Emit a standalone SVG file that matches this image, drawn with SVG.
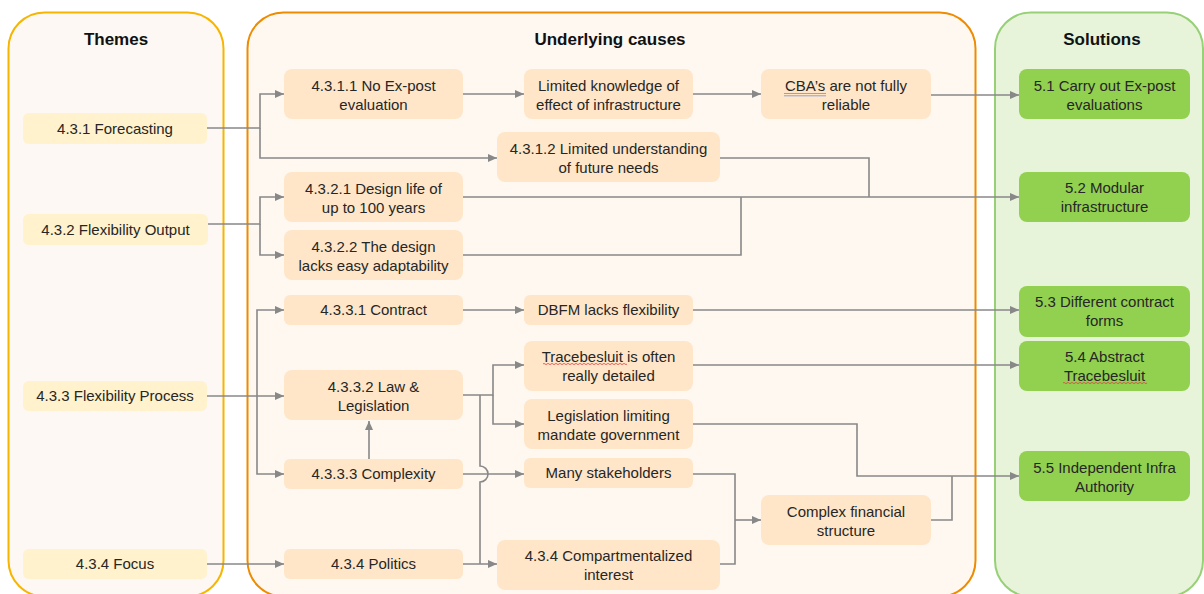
<svg xmlns="http://www.w3.org/2000/svg" width="1204" height="594" viewBox="0 0 1204 594">
  <style>
    text { font-family: "Liberation Sans", Arial, sans-serif; fill: #262626; }
    .title { font-size: 17px; font-weight: bold; fill: #111; text-anchor: middle; }
    .lbl { font-size: 15px; text-anchor: middle; }
    .theme rect { fill: #fff2cc; }
    .cause rect { fill: #ffe6c9; }
    .sol rect { fill: #92d050; }
    .conn path { fill: none; stroke: #888; stroke-width: 1.6; }
    .arr { marker-end: url(#tip); }
  </style>
  <defs>
    <marker id="tip" markerUnits="userSpaceOnUse" markerWidth="10" markerHeight="10" viewBox="0 0 10 10" refX="9" refY="5" orient="auto">
      <path d="M0,1 L9,5 L0,9 Z" fill="#888"/>
    </marker>
  </defs>

  <!-- swimlane panels -->
  <g id="lane-themes">
    <rect x="8.5" y="12.5" width="215" height="584" rx="36" fill="#fdf8f3" stroke="#f7b500" stroke-width="2"/>
    <text class="title" x="116" y="45">Themes</text>
  </g>
  <g id="lane-causes">
    <rect x="247.5" y="12.5" width="728" height="584" rx="36" fill="#fef8f1" stroke="#ee8b00" stroke-width="2"/>
    <text class="title" x="610" y="45">Underlying causes</text>
  </g>
  <g id="lane-solutions">
    <rect x="995" y="12.5" width="208" height="584" rx="36" fill="#e7f4da" stroke="#97d077" stroke-width="2"/>
    <text class="title" x="1102" y="45">Solutions</text>
  </g>

  <!-- connectors -->
  <g id="connectors" class="conn">
    <path class="arr" d="M207,128 H260 V94 H284"/>
    <path class="arr" d="M260,128 V158 H497"/>
    <path class="arr" d="M463,94 H524"/>
    <path class="arr" d="M693,94 H761"/>
    <path class="arr" d="M931,95 H1019"/>
    <path d="M720,158 H869 V197"/>
    <path class="arr" d="M208,224 H260 V197 H284"/>
    <path class="arr" d="M260,224 V255 H284"/>
    <path class="arr" d="M463,197 H1019"/>
    <path d="M463,255 H741 V197"/>
    <path class="arr" d="M207,396 H284"/>
    <path class="arr" d="M257,396 V310 H284"/>
    <path class="arr" d="M257,396 V474 H284"/>
    <path class="arr" d="M369,459 V421"/>
    <path class="arr" d="M463,310 H524"/>
    <path class="arr" d="M693,310 H1019"/>
    <path class="arr" d="M463,395 H493 V365 H524"/>
    <path class="arr" d="M493,395 V424 H524"/>
    <path d="M480,395 V466 A8,8 0 0 1 480,482 V564"/>
    <path class="arr" d="M463,474 H524"/>
    <path class="arr" d="M207,564 H284"/>
    <path class="arr" d="M463,564 H497"/>
    <path class="arr" d="M693,365 H1019"/>
    <path class="arr" d="M693,424 H857 V476 H1019"/>
    <path d="M693,474 H735 V564 H720"/>
    <path class="arr" d="M735,520 H761"/>
    <path d="M931,520 H952 V476"/>
  </g>

  <!-- themes -->
  <g id="t431" class="theme"><rect x="23" y="113" width="184" height="31" rx="6"/><text class="lbl" x="115" y="134">4.3.1 Forecasting</text></g>
  <g id="t432" class="theme"><rect x="23" y="214" width="185" height="31" rx="6"/><text class="lbl" x="115.5" y="235">4.3.2 Flexibility Output</text></g>
  <g id="t433" class="theme"><rect x="23" y="381" width="184" height="30" rx="6"/><text class="lbl" x="115" y="401">4.3.3 Flexibility Process</text></g>
  <g id="t434" class="theme"><rect x="23" y="549" width="184" height="30" rx="6"/><text class="lbl" x="115" y="569">4.3.4 Focus</text></g>

  <!-- underlying causes -->
  <g id="c4311" class="cause"><rect x="284" y="69" width="179" height="50" rx="8"/><text class="lbl" x="373.5" y="91">4.3.1.1 No Ex-post</text><text class="lbl" x="373.5" y="110">evaluation</text></g>
  <g id="c-knowledge" class="cause"><rect x="524" y="69" width="169" height="50" rx="8"/><text class="lbl" x="608.5" y="91">Limited knowledge of</text><text class="lbl" x="608.5" y="110">effect of infrastructure</text></g>
  <g id="c-cba" class="cause"><rect x="761" y="69" width="170" height="50" rx="8"/><text class="lbl" x="846" y="91">CBA’s are not fully</text><text class="lbl" x="846" y="110">reliable</text>
    <path d="M784,93.5 H826 M784,95.8 H826" stroke="#7b9be0" stroke-width="0.9" fill="none"/></g>
  <g id="c4312" class="cause"><rect x="497" y="132" width="223" height="50" rx="8"/><text class="lbl" x="608.5" y="154">4.3.1.2 Limited understanding</text><text class="lbl" x="608.5" y="173">of future needs</text></g>
  <g id="c4321" class="cause"><rect x="284" y="172" width="179" height="50" rx="8"/><text class="lbl" x="373.5" y="194">4.3.2.1 Design life of</text><text class="lbl" x="373.5" y="213">up to 100 years</text></g>
  <g id="c4322" class="cause"><rect x="284" y="230" width="179" height="50" rx="8"/><text class="lbl" x="373.5" y="252">4.3.2.2 The design</text><text class="lbl" x="373.5" y="271">lacks easy adaptability</text></g>
  <g id="c4331" class="cause"><rect x="284" y="295" width="179" height="30" rx="6"/><text class="lbl" x="373.5" y="315">4.3.3.1 Contract</text></g>
  <g id="c-dbfm" class="cause"><rect x="524" y="295" width="169" height="30" rx="6"/><text class="lbl" x="608.5" y="315">DBFM lacks flexibility</text></g>
  <g id="c4332" class="cause"><rect x="284" y="370" width="179" height="50" rx="8"/><text class="lbl" x="373.5" y="392">4.3.3.2 Law &amp;</text><text class="lbl" x="373.5" y="411">Legislation</text></g>
  <g id="c-trace" class="cause"><rect x="524" y="341" width="169" height="50" rx="8"/><text class="lbl" x="608.5" y="362">Tracebesluit is often</text><text class="lbl" x="608.5" y="381">really detailed</text>
    <path d="M543,364 q1,-1.2 2,0 t2,0 t2,0 t2,0 t2,0 t2,0 t2,0 t2,0 t2,0 t2,0 t2,0 t2,0 t2,0 t2,0 t2,0 t2,0 t2,0 t2,0 t2,0 t2,0 t2,0 t2,0 t2,0 t2,0 t2,0 t2,0 t2,0 t2,0 t2,0 t2,0 t2,0 t2,0 t2,0 t2,0 t2,0 t2,0 t2,0 t2,0 t2,0 t2,0 t2,0 t2,0" stroke="#e04040" stroke-width="0.8" fill="none"/></g>
  <g id="c-legis" class="cause"><rect x="524" y="399" width="169" height="50" rx="8"/><text class="lbl" x="608.5" y="421">Legislation limiting</text><text class="lbl" x="608.5" y="440">mandate government</text></g>
  <g id="c4333" class="cause"><rect x="284" y="459" width="179" height="30" rx="6"/><text class="lbl" x="373.5" y="479">4.3.3.3 Complexity</text></g>
  <g id="c-stake" class="cause"><rect x="524" y="458" width="169" height="30" rx="6"/><text class="lbl" x="608.5" y="478">Many stakeholders</text></g>
  <g id="c-finance" class="cause"><rect x="761" y="495" width="170" height="50" rx="8"/><text class="lbl" x="846" y="517">Complex financial</text><text class="lbl" x="846" y="536">structure</text></g>
  <g id="c434" class="cause"><rect x="284" y="549" width="179" height="30" rx="6"/><text class="lbl" x="373.5" y="569">4.3.4 Politics</text></g>
  <g id="c-compart" class="cause"><rect x="497" y="540" width="223" height="50" rx="8"/><text class="lbl" x="608.5" y="561">4.3.4 Compartmentalized</text><text class="lbl" x="608.5" y="580">interest</text></g>

  <!-- solutions -->
  <g id="s51" class="sol"><rect x="1019" y="69" width="171" height="50" rx="8"/><text class="lbl" x="1104.5" y="91">5.1 Carry out Ex-post</text><text class="lbl" x="1104.5" y="110">evaluations</text></g>
  <g id="s52" class="sol"><rect x="1019" y="172" width="171" height="50" rx="8"/><text class="lbl" x="1104.5" y="193">5.2 Modular</text><text class="lbl" x="1104.5" y="212">infrastructure</text></g>
  <g id="s53" class="sol"><rect x="1019" y="286" width="171" height="51" rx="8"/><text class="lbl" x="1104.5" y="307">5.3 Different contract</text><text class="lbl" x="1104.5" y="326">forms</text></g>
  <g id="s54" class="sol"><rect x="1019" y="341" width="171" height="50" rx="8"/><text class="lbl" x="1104.5" y="362">5.4 Abstract</text><text class="lbl" x="1104.5" y="381">Tracebesluit</text>
    <path d="M1063,383 q1,-1.2 2,0 t2,0 t2,0 t2,0 t2,0 t2,0 t2,0 t2,0 t2,0 t2,0 t2,0 t2,0 t2,0 t2,0 t2,0 t2,0 t2,0 t2,0 t2,0 t2,0 t2,0 t2,0 t2,0 t2,0 t2,0 t2,0 t2,0 t2,0 t2,0 t2,0 t2,0 t2,0 t2,0 t2,0 t2,0 t2,0 t2,0 t2,0 t2,0 t2,0 t2,0 t2,0" stroke="#e04040" stroke-width="0.8" fill="none"/></g>
  <g id="s55" class="sol"><rect x="1019" y="451" width="171" height="50" rx="8"/><text class="lbl" x="1104.5" y="473">5.5 Independent Infra</text><text class="lbl" x="1104.5" y="492">Authority</text></g>
</svg>
